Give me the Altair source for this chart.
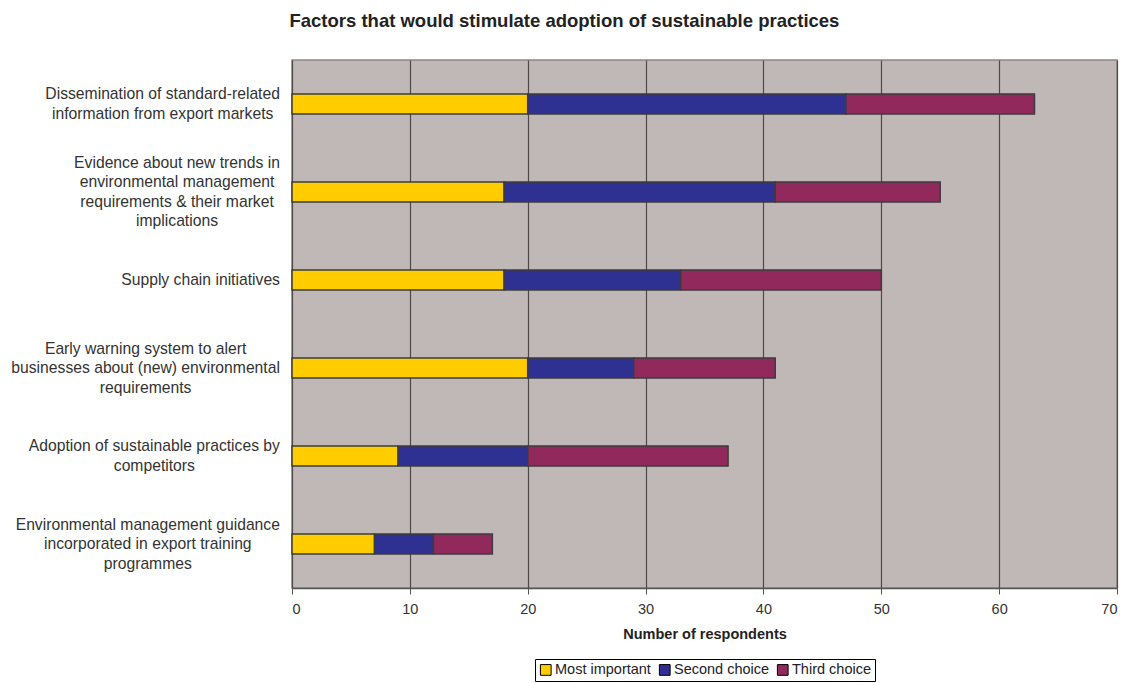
import altair as alt
import pandas as pd

# Factor labels, one entry per wrapped line
factor_lines = [
    ["Dissemination of standard-related", "information from export markets"],
    ["Evidence about new trends in", "environmental management",
     "requirements & their market", "implications"],
    ["Supply chain initiatives"],
    ["Early warning system to alert", "businesses about (new) environmental",
     "requirements"],
    ["Adoption of sustainable practices by", "competitors"],
    ["Environmental management guidance", "incorporated in export training",
     "programmes"],
]
series = ["Most important", "Second choice", "Third choice"]
most_important = [20, 18, 18, 20, 9, 7]
second_choice = [27, 23, 15, 9, 11, 5]
third_choice = [16, 14, 17, 12, 17, 5]
x_ticks = [0, 10, 20, 30, 40, 50, 60, 70]

colors = ["#FFCC00", "#2E3192", "#92295C"]
FONT = "Liberation Sans"
LABEL_SIZE = 15.7
LINE_HEIGHT = 19.5
WIDTH, HEIGHT = 825, 528

# Arial / Liberation Sans advance widths (per 1000 em) used to size label blocks
ARIAL = {
    " ": 278, "a": 556, "b": 556, "c": 500, "d": 556, "e": 556, "f": 278, "g": 556,
    "h": 556, "i": 222, "j": 222, "k": 500, "l": 222, "m": 833, "n": 556, "o": 556,
    "p": 556, "q": 556, "r": 333, "s": 500, "t": 278, "u": 556, "v": 500, "w": 722,
    "x": 500, "y": 500, "z": 500, "A": 667, "B": 667, "C": 722, "D": 722, "E": 667,
    "F": 611, "G": 778, "H": 722, "I": 278, "L": 556, "M": 833, "N": 722, "O": 778,
    "P": 667, "R": 722, "S": 667, "T": 611, "U": 722, "W": 944, "-": 333, "&": 667,
    "(": 333, ")": 333, ".": 278, ",": 278,
}


def text_width(s, size):
    return sum(ARIAL.get(ch, 556) for ch in s) * size / 1000.0


factor_names = [" ".join(lines) for lines in factor_lines]
band = HEIGHT / len(factor_names)

rows = []
for i, name in enumerate(factor_names):
    for rank, (s, vals) in enumerate(zip(series, [most_important, second_choice, third_choice])):
        rows.append({"factor": name, "series": s, "value": vals[i], "rank": rank})
bars_df = pd.DataFrame(rows)

# Each label block is right-aligned against the axis, its lines centred within it,
# and the block is centred vertically on its band (offset measured from band start).
label_rows = []
for name, lines in zip(factor_names, factor_lines):
    block = max(text_width(l, LABEL_SIZE) for l in lines)
    label_rows.append({
        "factor": name,
        "lines": lines,
        "cx": -12 - block / 2.0,
        "dy": band / 2.0 - (len(lines) - 1) / 2.0 * LINE_HEIGHT,
    })
labels_df = pd.DataFrame(label_rows)

y_enc_scale = alt.Scale(paddingInner=0, paddingOuter=0)

bars = alt.Chart(bars_df).mark_bar(size=20, stroke="#3c3c3c", strokeWidth=1.5).encode(
    x=alt.X(
        "value:Q",
        stack="zero",
        scale=alt.Scale(domain=[0, 70], nice=False),
        axis=alt.Axis(
            values=x_ticks,
            title="Number of respondents",
            grid=True,
            gridColor="#4f4a4a",
            gridWidth=1.2,
            domainColor="#555555",
            domainWidth=1.5,
            tickColor="#555555",
            tickSize=6,
            labelFont=FONT,
            labelFontSize=14.5,
            labelColor="#333333",
            labelPadding=8,
            titleFont=FONT,
            titleFontSize=14.5,
            titleFontWeight="bold",
            titleColor="#222222",
            titlePadding=12,
        ),
    ),
    y=alt.Y(
        "factor:N",
        sort=factor_names,
        scale=y_enc_scale,
        axis=alt.Axis(
            labels=False,
            title=None,
            bandPosition=0,
            tickSize=6,
            tickColor="#555555",
            domainColor="#555555",
            domainWidth=1.5,
            grid=False,
        ),
    ),
    color=alt.Color(
        "series:N",
        scale=alt.Scale(domain=series, range=colors),
        legend=alt.Legend(
            title=None,
            orient="none",
            legendX=243,
            legendY=599,
            direction="horizontal",
            symbolType="square",
            symbolSize=115,
            symbolStrokeColor="#000000",
            symbolStrokeWidth=1,
            labelFont=FONT,
            labelFontSize=14.5,
            labelColor="#222222",
            labelOffset=2,
            columnPadding=5,
            strokeColor="#000000",
            fillColor="#ffffff",
            padding=3.5,
        ),
    ),
    order=alt.Order("rank:Q"),
)

labels = alt.Chart(labels_df).mark_text(
    align="center",
    baseline="middle",
    font=FONT,
    fontSize=LABEL_SIZE,
    lineHeight=LINE_HEIGHT,
    color="#333333",
).encode(
    y=alt.Y("factor:N", sort=factor_names, scale=y_enc_scale, axis=None),
    yOffset=alt.YOffset("dy:Q", scale=None),
    x=alt.X("cx:Q", scale=None, axis=None),
    text=alt.Text("lines:N"),
)

chart = alt.layer(bars, labels).properties(
    width=WIDTH,
    height=HEIGHT,
    background="#ffffff",
    title=alt.TitleParams(
        "Factors that would stimulate adoption of sustainable practices",
        font=FONT,
        fontSize=18.5,
        fontWeight="bold",
        color="#222222",
        anchor="middle",
        frame="bounds",
        offset=30,
    ),
    autosize=alt.AutoSizeParams(type="none"),
    padding={"left": 292, "top": 60, "right": 13, "bottom": 95},
).configure_view(
    fill="#C0B8B6",
    stroke="#8f8787",
    strokeWidth=1.5,
)

chart.save("out.html", embed_options={"renderer": "svg", "actions": False})
